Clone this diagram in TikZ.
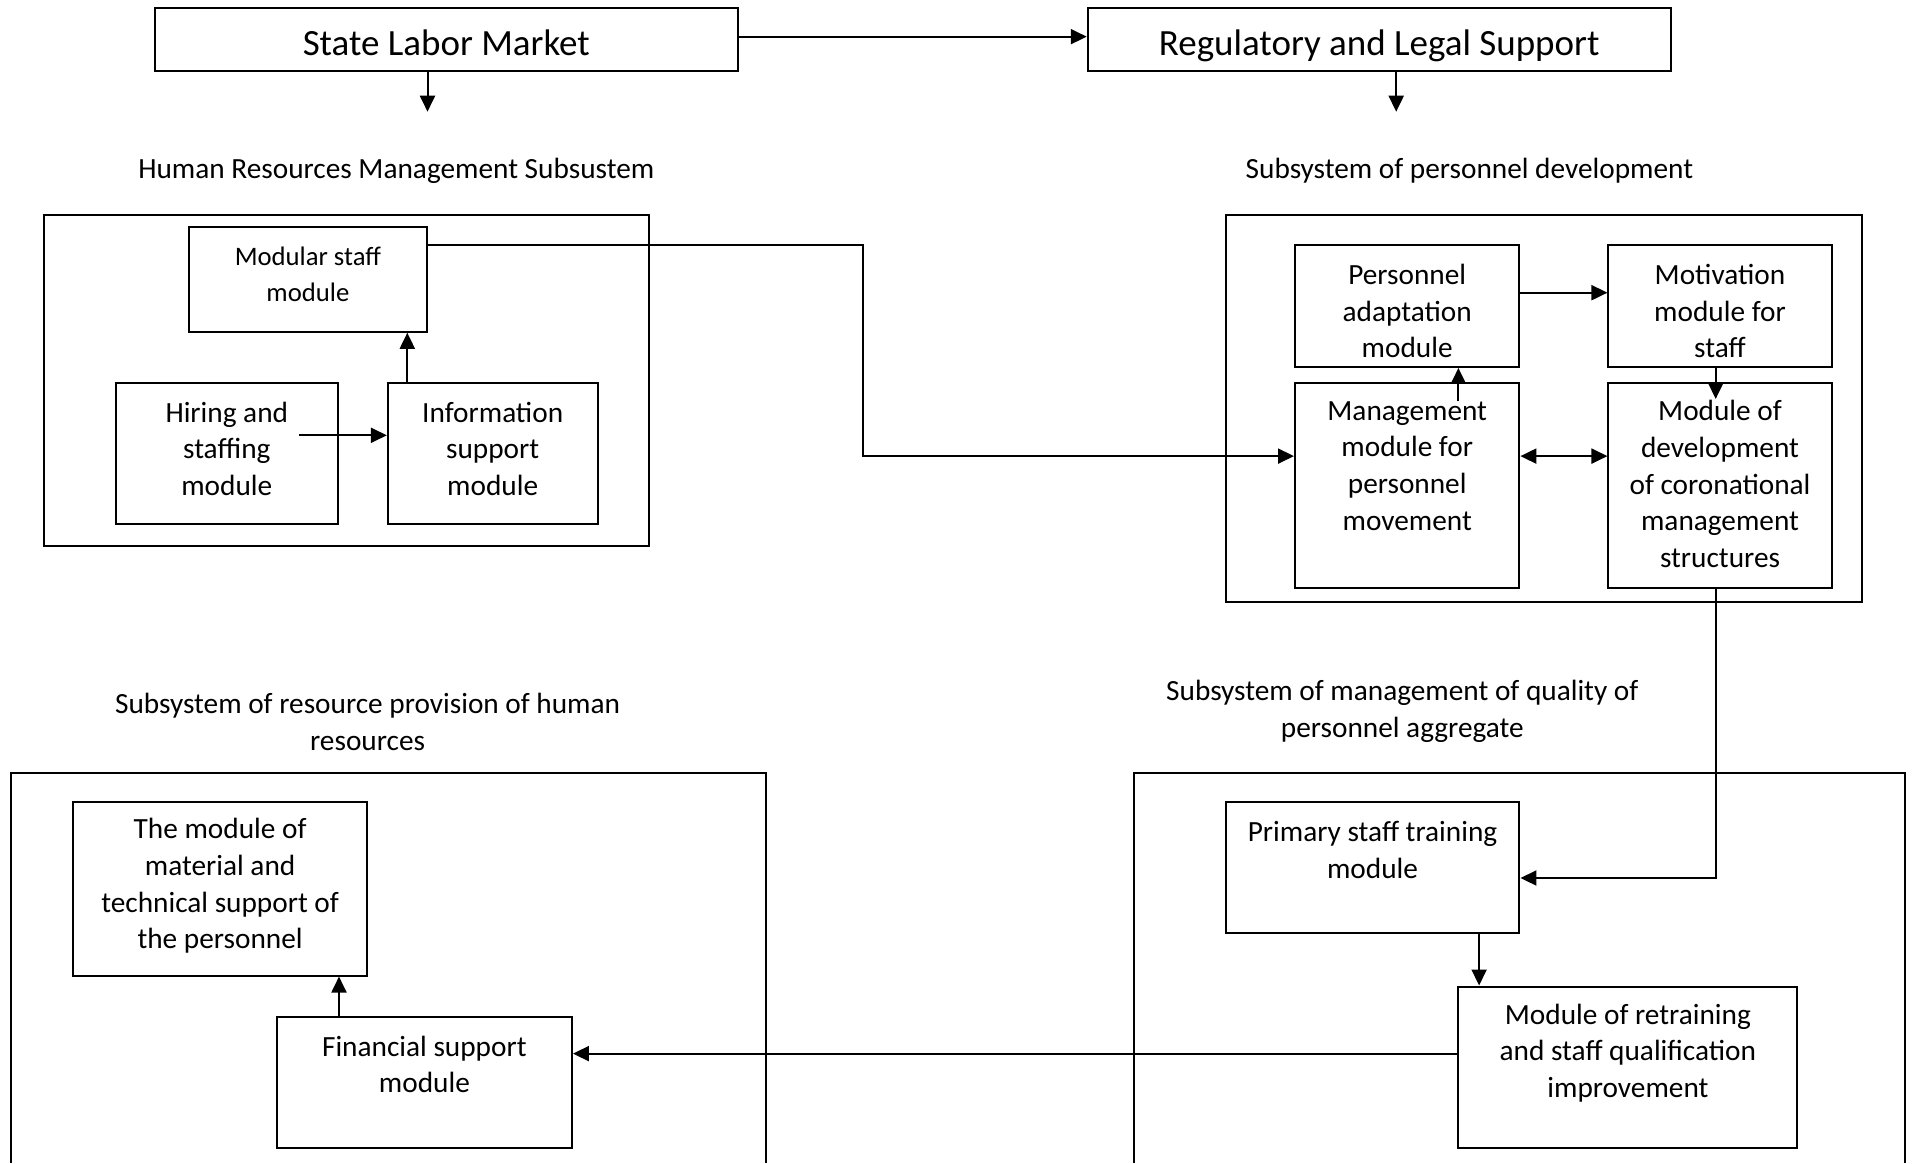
\documentclass[tikz,border=0pt]{standalone}
\usepackage{fontspec}
\setmainfont{Carlito}
\usetikzlibrary{arrows.meta}
\newcommand{\mainsz}{\fontsize{29.3pt}{36.6pt}\selectfont}
\newcommand{\titlesz}{\fontsize{37pt}{44pt}\selectfont}
\newcommand{\smallsz}{\fontsize{26.7pt}{36.6pt}\selectfont}
\tikzset{
  box/.style={draw, line width=2pt, inner sep=0pt},
  outerbox/.style={draw, line width=2pt},
  txt/.style={align=center, inner sep=0pt, font=\mainsz},
  arr/.style={line width=2pt, -{Triangle[length=16pt,width=15pt]}},
  arrtwo/.style={line width=2pt, {Triangle[length=16pt,width=15pt]}-{Triangle[length=16pt,width=15pt]}},
}
\begin{document}
\begin{tikzpicture}[x=1pt,y=-1pt]
\useasboundingbox (0,0) rectangle (1912,1163);
% top boxes
\node[box, minimum width=583pt, minimum height=62.7pt] (SLM) at (446.3,39.65) {};
\node[txt, font=\titlesz, anchor=base] (SLMT) at (446.3,55) {State Labor Market};
\node[box, minimum width=582.9pt, minimum height=62.7pt] (RLS) at (1379.2,39.65) {};
\node[txt, font=\titlesz, anchor=base] (RLST) at (1379.2,55) {Regulatory and Legal Support};
\draw[arr] ([yshift=3pt]SLM.east) -- ([yshift=3pt]RLS.west);
\coordinate (slmD) at (427.5,111.7);
\coordinate (rlsD) at (1396.2,111.7);
\draw[arr] (SLM.south -| slmD) -- (slmD);
\draw[arr] (RLS.south -| rlsD) -- (rlsD);

% titles
\node[txt] (tHRM) at (396.3,170.5) {Human Resources Management Subsustem};
\node[txt] (tPD) at (1469.4,170.5) {Subsystem of personnel development};
\node[txt] (tRP) at (367.6,721.9) {Subsystem of resource provision of human\\resources};
\node[txt] (tQM) at (1402.3,711.5) {Subsystem of management of quality of\\personnel aggregate};

% HRM subsystem
\node[box, minimum width=604.8pt, minimum height=331.7pt] (HRM) at (346.3,380.5) {};
\node[box, minimum width=237.8pt, minimum height=104.9pt] (Modular) at (307.9,279.3) {};
\node[txt, font=\smallsz] (ModularT) at (307.9,274.4) {Modular staff\\module};
\node[box, minimum width=222pt, minimum height=141.4pt] (Hiring) at (226.8,453.6) {};
\node[txt] (HiringT) at (226.8,448.7) {Hiring and\\staffing\\module};
\node[box, minimum width=209.7pt, minimum height=141.4pt] (Info) at (492.7,453.6) {};
\node[txt] (InfoT) at (492.7,448.7) {Information\\support\\module};
\coordinate (hirS) at (298.8,435.3);
\draw[arr] (hirS) -- (hirS -| Info.west);
\draw[arr] ([xshift=-85.4pt]Info.north) -- ([xshift=-85.4pt]Info.north |- Modular.south);

% PD subsystem
\node[box, minimum width=636.5pt, minimum height=387.8pt] (PD) at (1543.8,408.5) {};
\node[box, minimum width=224.4pt, minimum height=121.9pt] (Adapt) at (1407.2,306) {};
\node[txt] (AdaptT) at (1407.2,311) {Personnel\\adaptation\\module};
\node[box, minimum width=223.1pt, minimum height=121.9pt] (Motiv) at (1720,306) {};
\node[txt] (MotivT) at (1720,311) {Motivation\\module for\\staff};
\node[box, minimum width=224.4pt, minimum height=204.9pt] (Mgmt) at (1407.2,485.4) {};
\node[txt] (MgmtT) at (1407.2,465.8) {Management\\module for\\personnel\\movement};
\node[box, minimum width=223.1pt, minimum height=204.9pt] (Dev) at (1720,485.4) {};
\node[txt] (DevT) at (1720,484) {Module of\\development\\of coronational\\management\\structures};
\draw[arr] ([yshift=13.3pt]Adapt.east) -- ([yshift=13.3pt]Motiv.west);
\draw[arr] ([xshift=51.2pt,yshift=-19.5pt]Mgmt.north) -- ([xshift=51.2pt]Adapt.south);
\draw[arr] ([xshift=-4.3pt]Motiv.south) -- ([xshift=-4.3pt,yshift=-17pt]Dev.north);
\draw[arrtwo] ([yshift=29.3pt]Mgmt.east) -- ([yshift=29.3pt]Dev.west);

\draw[arr] ([yshift=34.2pt]Modular.east) -- ++(435.3pt,0) |- ([yshift=29.3pt]Mgmt.west);

% RP subsystem
\draw[outerbox] (11,1163) |- (765.8,773.1) -- (765.8,1163);
\node[box, minimum width=293.8pt, minimum height=173.1pt] (Material) at (220.1,889) {};
\node[txt] (MaterialT) at (220.1,886) {The module of\\material and\\technical support of\\the personnel};
\node[box, minimum width=295.1pt, minimum height=130.5pt] (Financial) at (424.4,1082.3) {};
\node[txt] (FinancialT) at (424.4,1064.5) {Financial support\\module};
\draw[arr] ([xshift=-85.4pt]Financial.north) -- ([xshift=-85.4pt]Financial.north |- Material.south);

% QM subsystem
\draw[outerbox] (1134,1163) |- (1904.7,773.1) -- (1904.7,1163);
\node[box, minimum width=293.9pt, minimum height=130.4pt] (Primary) at (1372.5,867.6) {};
\node[txt] (PrimaryT) at (1372.5,849.9) {Primary staff training\\module};
\node[box, minimum width=339pt, minimum height=161pt] (Retrain) at (1627.9,1067) {};
\node[txt] (RetrainT) at (1627.9,1053) {Module of retraining\\and staff qualification\\improvement};
\draw[arr] ([xshift=-4.3pt]Dev.south) |- ([yshift=-10.4pt]Primary.east);
\draw[arr] ([xshift=106.6pt]Primary.south) -- ([xshift=106.6pt]Primary.south |- Retrain.north);
\draw[arr] ([yshift=13.4pt]Retrain.west) -- ([yshift=13.4pt]Retrain.west -| Financial.east);
\end{tikzpicture}
\end{document}
